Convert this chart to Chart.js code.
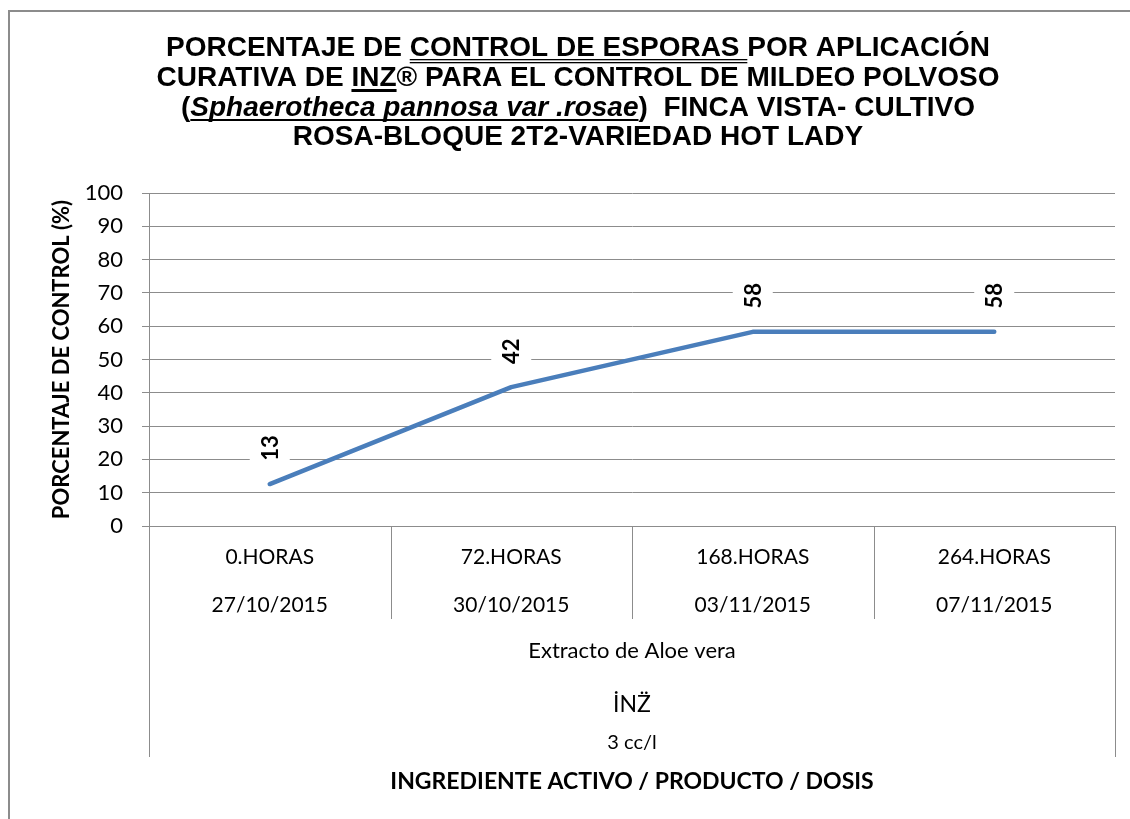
<!DOCTYPE html>
<html><head><meta charset="utf-8">
<script src="https://cdn.jsdelivr.net/npm/chart.js@4.4.1/dist/chart.umd.min.js"></script>
<style>html,body{margin:0;padding:0;background:#fff;overflow:hidden}#wrap{width:1130px;height:819px;position:relative}</style>
</head><body><div id="wrap"><canvas id="c" width="1130" height="819"></canvas></div>
<script>
// ---- data ----
const hourLabels = ["0.HORAS", "72.HORAS", "168.HORAS", "264.HORAS"];
const dateLabels = ["27/10/2015", "30/10/2015", "03/11/2015", "07/11/2015"];
const controlPct = [12.6, 41.7, 58.3, 58.3];
const groupLabels = ["Extracto de Aloe vera", "İNZ̈", "3 cc/l"];
const yAxisTitle = "PORCENTAJE DE CONTROL (%)";
const xAxisTitle = "INGREDIENTE ACTIVO / PRODUCTO / DOSIS";
const titleLines = [
  [["PORCENTAJE DE ", ""], ["CONTROL DE ESPORAS ", "u2"], ["POR APLICACIÓN", ""]],
  [["CURATIVA DE ", ""], ["INZ", "ut"], ["® PARA EL CONTROL DE MILDEO POLVOSO", ""]],
  [["(", ""], ["Sphaerotheca pannosa var .rosae", "iu"], [")  FINCA VISTA- CULTIVO", ""]],
  [["ROSA-BLOQUE 2T2-VARIEDAD HOT LADY", ""]]
];

const categories = hourLabels.map((h, i) => [h, dateLabels[i]]);
const GRID = '#8c8c8c';
const LATO = 'Lato, "Open Sans", sans-serif';

const deco = {
  id: 'deco',
  beforeDraw(chart) {
    const ctx = chart.ctx;
    ctx.save();
    ctx.fillStyle = '#fff';
    ctx.fillRect(0, 0, chart.width, chart.height);
    ctx.strokeStyle = '#8c8c8c';
    ctx.lineWidth = 2;
    ctx.beginPath();
    ctx.moveTo(9, chart.height);
    ctx.lineTo(9, 11);
    ctx.lineTo(chart.width, 11);
    ctx.stroke();
    ctx.restore();
  },
  afterDatasetsDraw(chart) {
    const ctx = chart.ctx;
    const meta = chart.getDatasetMeta(0);
    const vals = chart.data.datasets[0].data;
    ctx.save();
    ctx.font = 'bold 22px ' + LATO;
    meta.data.forEach((p, i) => {
      const txt = String(Math.round(vals[i]));
      ctx.save();
      ctx.translate(p.x, p.y - 36);
      ctx.rotate(-Math.PI / 2);
      const w = ctx.measureText(txt).width;
      ctx.fillStyle = '#fff';
      ctx.fillRect(-w / 2 - 8, -20, w + 16, 40);
      ctx.fillStyle = '#000';
      ctx.textAlign = 'center';
      ctx.textBaseline = 'middle';
      ctx.fillText(txt, 0, 1);
      ctx.restore();
    });
    ctx.restore();
  },
  afterDraw(chart) {
    const ctx = chart.ctx;
    const xs = chart.scales.x;
    ctx.save();
    // category dividers
    const n = chart.data.labels.length;
    const cw = (xs.right - xs.left) / n;
    ctx.strokeStyle = GRID;
    ctx.lineWidth = 1;
    for (let i = 0; i <= n; i++) {
      const x = Math.round(xs.left + i * cw) + 0.5;
      ctx.beginPath();
      ctx.moveTo(x, xs.top);
      ctx.lineTo(x, (i === 0 || i === n) ? 757 : 619);
      ctx.stroke();
    }
    // group labels
    const cx = (xs.left + xs.right) / 2;
    ctx.fillStyle = '#000';
    ctx.textAlign = 'center';
    ctx.textBaseline = 'middle';
    const gy = [651, 705, 743];
    const gs = [22, 23, 20];
    groupLabels.forEach((t, i) => {
      ctx.font = gs[i] + 'px ' + LATO;
      ctx.fillText(t, cx, gy[i]);
    });
    // title
    const tcx = 578;
    const baselines = [56, 86, 116, 145];
    ctx.textAlign = 'left';
    ctx.textBaseline = 'alphabetic';
    const fontFor = st => (st.includes('i') ? 'italic ' : '') + 'bold 28px "Liberation Sans", Arial, sans-serif';
    titleLines.forEach((line, li) => {
      let total = 0;
      line.forEach(([t, st]) => { ctx.font = fontFor(st); total += ctx.measureText(t).width; });
      let x = tcx - total / 2;
      const by = baselines[li];
      line.forEach(([t, st]) => {
        ctx.font = fontFor(st);
        const w = ctx.measureText(t).width;
        ctx.fillText(t, x, by);
        if (st.includes('u')) {
          if (st.includes('u2')) {
            ctx.fillRect(x, by + 3, w, 1.3);
            ctx.fillRect(x, by + 6, w, 1.3);
          } else if (st.includes('ut')) {
            ctx.fillRect(x, by + 3, w, 3);
          } else {
            ctx.fillRect(x, by + 3, w, 2);
          }
        }
        x += w;
      });
    });
    ctx.restore();
  }
};

new Chart(document.getElementById('c'), {
  type: 'line',
  data: {
    labels: categories,
    datasets: [{
      data: controlPct,
      borderColor: '#4a7ebb',
      borderWidth: 4.5,
      borderCapStyle: 'round',
      borderJoinStyle: 'round',
      pointRadius: 0,
      tension: 0,
      fill: false
    }]
  },
  options: {
    responsive: false,
    animation: false,
    devicePixelRatio: 1,
    layout: { padding: { left: 0, right: 15, top: 193, bottom: 0 } },
    plugins: { legend: { display: false }, title: { display: false }, tooltip: { enabled: false } },
    scales: {
      x: {
        type: 'category',
        offset: true,
        afterFit(s) { s.height = 293; },
        grid: { display: false, drawTicks: false },
        border: { display: false },
        ticks: {
          color: '#000',
          font: { family: LATO, size: 21, lineHeight: 2.25 },
          padding: 8,
          maxRotation: 0,
          autoSkip: false
        },
        title: {
          display: true,
          text: xAxisTitle,
          color: '#000',
          font: { family: LATO, size: 23, weight: 'bold', lineHeight: 1.2 },
          padding: { top: 0, bottom: 24 }
        }
      },
      y: {
        min: 0, max: 100,
        afterFit(s) { s.width = 149; },
        ticks: { stepSize: 10, color: '#000', font: { family: LATO, size: 22 }, padding: 19 },
        grid: { color: GRID, lineWidth: 1, tickLength: 7, drawTicks: true },
        border: { display: true, color: GRID, width: 1 },
        title: {
          display: true,
          text: yAxisTitle,
          color: '#000',
          font: { family: LATO, size: 22, weight: 'bold', lineHeight: 1.2 },
          padding: { top: 49, bottom: 0 }
        }
      }
    }
  },
  plugins: [deco]
});
</script>
</body></html>
